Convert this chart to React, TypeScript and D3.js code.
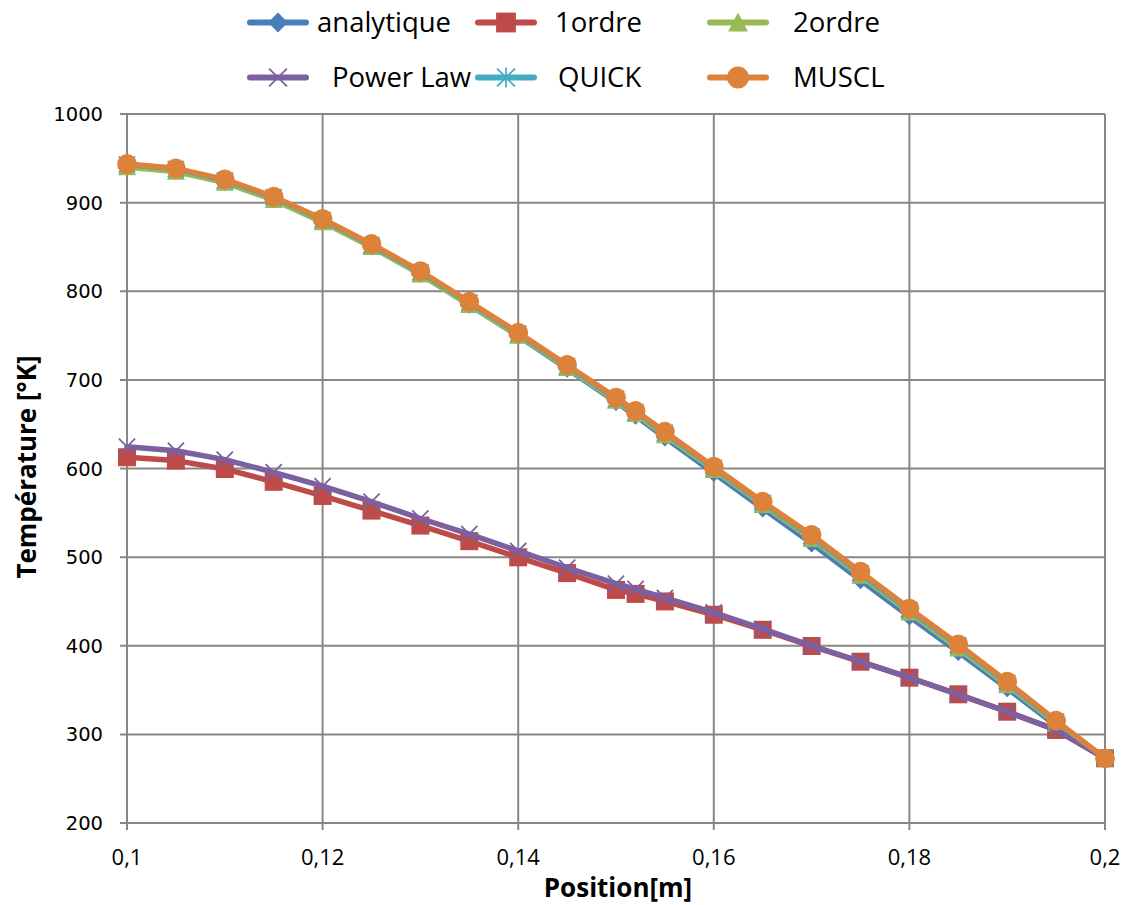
import React from "react";
import * as d3 from "d3";

const positions = [0.1, 0.105, 0.11, 0.115, 0.12, 0.125, 0.13, 0.135, 0.14, 0.145, 0.15, 0.152, 0.155, 0.16, 0.165, 0.17, 0.175, 0.18, 0.185, 0.19, 0.195, 0.2];
const analytique = [941, 936, 923, 904, 879, 850.5, 819.5, 784.5, 749.5, 712.5, 675, 659.5, 635, 595, 555, 515.5, 474, 433, 393, 352, 310, 273];
const ordre1 = [612.7, 608.9, 599.4, 585, 569, 552.5, 535.6, 518, 499.8, 482, 463, 458.5, 450, 435, 418, 399.7, 382, 364, 345.2, 325.6, 305, 273];
const ordre2 = [940, 935, 922.5, 903, 878, 850, 819, 784.5, 750, 713.5, 676.5, 661.5, 637.5, 598.5, 559, 520.5, 479, 437.5, 397, 355.5, 312.5, 273];
const powerLaw = [624.6, 620, 610, 595.7, 580, 562.5, 543.6, 526, 507, 488, 470, 464, 454, 437.5, 419, 400, 382, 364, 345, 325.5, 305, 273];
const quick = [943, 938, 925, 906, 880.5, 852, 821.5, 787, 752, 715.5, 678.5, 663.5, 640, 600.5, 561, 523, 481.5, 440, 400, 358, 314.5, 273];
const muscl = [943.6, 938.7, 926.3, 906.7, 881.5, 853.3, 822.8, 788.2, 753.3, 716.8, 680, 665, 641.5, 602, 562.5, 525, 483.5, 442, 401.6, 359.5, 315.5, 273];

const xTicks = [0.1, 0.12, 0.14, 0.16, 0.18, 0.2];
const yTicks = [200, 300, 400, 500, 600, 700, 800, 900, 1000];

type Marker = "diamond" | "square" | "triangle" | "x" | "asterisk" | "circle";
const series: { name: string; values: number[]; color: string; marker: Marker }[] = [
  { name: "analytique", values: analytique, color: "#4A7EBB", marker: "diamond" },
  { name: "1ordre", values: ordre1, color: "#BE4B48", marker: "square" },
  { name: "2ordre", values: ordre2, color: "#98B954", marker: "triangle" },
  { name: " Power Law", values: powerLaw, color: "#7D60A0", marker: "x" },
  { name: "QUICK", values: quick, color: "#46AAC5", marker: "asterisk" },
  { name: "MUSCL", values: muscl, color: "#DD823B", marker: "circle" },
];

const W = 1128, H = 905;
const left = 127, right = 1105, top = 114, bottom = 823;

function MarkerShape({ type, x, y, color, s = 1 }: { type: Marker; x: number; y: number; color: string; s?: number }) {
  const r = 9 * s;
  switch (type) {
    case "diamond":
      return <path d={`M${x},${y - r}L${x + r},${y}L${x},${y + r}L${x - r},${y}Z`} fill={color} />;
    case "square":
      return <rect x={x - r} y={y - r} width={2 * r} height={2 * r} fill={color} />;
    case "triangle":
      return <path d={`M${x},${y - r}L${x + r},${y + r * 0.9}L${x - r},${y + r * 0.9}Z`} fill={color} />;
    case "x":
      return <path d={`M${x - r * 0.9},${y - r * 0.9}L${x + r * 0.9},${y + r * 0.9}M${x - r * 0.9},${y + r * 0.9}L${x + r * 0.9},${y - r * 0.9}`} stroke={color} strokeWidth={1.8} fill="none" />;
    case "asterisk":
      return (
        <path
          d={`M${x - r * 0.9},${y - r * 0.9}L${x + r * 0.9},${y + r * 0.9}M${x - r * 0.9},${y + r * 0.9}L${x + r * 0.9},${y - r * 0.9}M${x},${y - r}L${x},${y + r}`}
          stroke={color}
          strokeWidth={1.8}
          fill="none"
        />
      );
    case "circle":
    default:
      return <circle cx={x} cy={y} r={r * 1.1} fill={color} />;
  }
}

export default function App() {
  const x = d3.scaleLinear().domain([0.1, 0.2]).range([left, right]);
  const y = d3.scaleLinear().domain([200, 1000]).range([bottom, top]);
  const line = d3
    .line<number>()
    .x((_, i) => x(positions[i]))
    .y((v) => y(v));
  const fmtX = (v: number) => String(+v.toFixed(2)).replace(".", ",");
  const grid = "#878787";

  const legendCols = [250, 478, 710];
  const legendLen = 56;
  const legendRows = [22.5, 77.5];
  const legendTextX = [
    [317, 555, 793],
    [332, 558, 793],
  ];

  return (
    <svg width={W} height={H} style={{ position: "absolute", left: 0, top: 0, background: "#fff" }}>
      <rect x={0} y={0} width={W} height={H} fill="#fff" />
      {yTicks.map((t) => (
        <line key={"gy" + t} x1={left - 7} x2={right} y1={y(t)} y2={y(t)} stroke={grid} strokeWidth={2} />
      ))}
      {xTicks.map((t) => (
        <line key={"gx" + t} x1={x(t)} x2={x(t)} y1={top} y2={bottom + 7} stroke={grid} strokeWidth={2} />
      ))}
      {yTicks.map((t) => (
        <text
          key={"ly" + t}
          x={103}
          y={y(t)}
          dy="0.36em"
          textAnchor="end"
          fontFamily="DejaVu Sans, Verdana, sans-serif"
          fontSize={19.5}
          fill="#000"
        >
          {t}
        </text>
      ))}
      {xTicks.map((t) => (
        <text
          key={"lx" + t}
          x={x(t)}
          y={865}
          textAnchor="middle"
          fontFamily="Open Sans, sans-serif"
          fontSize={22}
          fill="#000"
        >
          {fmtX(t)}
        </text>
      ))}
      <text x={618} y={897} textAnchor="middle" fontFamily="Open Sans, sans-serif" fontWeight="bold" fontSize={26} fill="#000">
        Position[m]
      </text>
      <text
        transform={`translate(36,${467}) rotate(-90)`}
        textAnchor="middle"
        fontFamily="Open Sans, sans-serif"
        fontWeight="bold"
        fontSize={26}
        fill="#000"
      >
        Température [°K]
      </text>
      {series.map((s) => (
        <g key={s.name}>
          <path d={line(s.values) || ""} fill="none" stroke={s.color} strokeWidth={5.5} strokeLinejoin="round" strokeLinecap="round" />
          {s.values.map((v, i) => (
            <MarkerShape key={i} type={s.marker} x={x(positions[i])} y={y(v)} color={s.color} />
          ))}
        </g>
      ))}
      {series.map((s, i) => {
        const r = Math.floor(i / 3);
        const c = i % 3;
        const lx = legendCols[c];
        const ly = legendRows[r];
        return (
          <g key={"leg" + s.name}>
            <line x1={lx} x2={lx + legendLen} y1={ly} y2={ly} stroke={s.color} strokeWidth={6} strokeLinecap="round" />
            <MarkerShape type={s.marker} x={lx + legendLen / 2} y={ly} color={s.color} s={1.1} />
            <text
              x={legendTextX[r][c]}
              y={ly}
              dy="0.36em"
              fontFamily="Open Sans, sans-serif"
              fontSize={27.5}
              fill="#000"
            >
              {s.name.trim()}
            </text>
          </g>
        );
      })}
    </svg>
  );
}
